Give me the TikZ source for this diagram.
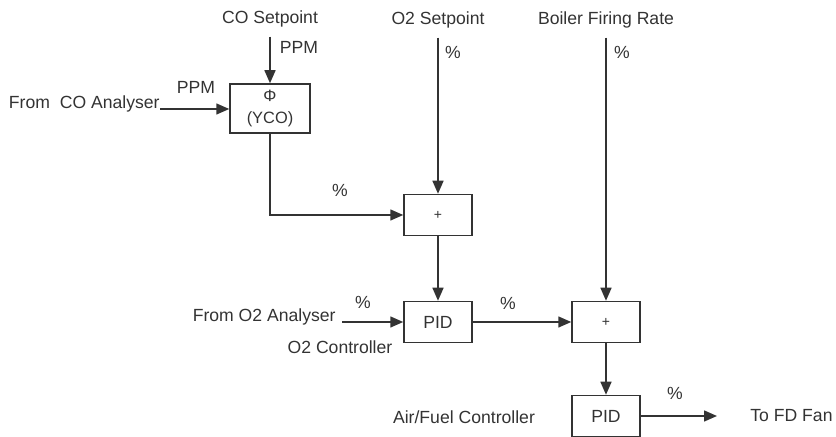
\documentclass[tikz,border=0pt]{standalone}
\usepackage{fontspec}
\setmainfont{Liberation Sans}
\usetikzlibrary{arrows.meta}
\definecolor{inkgray}{HTML}{333333}
\begin{document}
\begin{tikzpicture}[x=0.5pt,y=-0.5pt,font=\fontsize{8.8}{10.5}\selectfont,
  blk/.style={draw=inkgray,line width=0.75pt,minimum width=34pt,minimum height=20.5pt,inner sep=0pt,text=inkgray},
  sig/.style={draw=inkgray,line width=0.75pt,-{Triangle[length=6.5pt,width=5.5pt]}},
  feed/.style={sig,shorten <=4.5pt},
  lbl/.style={text=inkgray,inner sep=0pt}]
\useasboundingbox (0,0) rectangle (836,437);
% blocks
\node[blk,minimum width=40pt,minimum height=24.5pt,align=center,font=\fontsize{8.2}{11}\selectfont] (cobox) at (270,108.5) {Φ\\(YCO)};
\node[blk] (plus1) at (438,215) {\scriptsize +};
\node[blk] (pid1) at (438,322) {PID};
\node[blk] (plus2) at (606,322) {\scriptsize +};
\node[blk] (pid2) at (606,416) {PID};
% signal names
\node[lbl] (cosp) at (270,19) {CO Setpoint};
\node[lbl] (o2sp) at (438,20) {O2 Setpoint};
\node[lbl] (bfr) at (606,20) {Boiler Firing Rate};
\node[lbl,anchor=base east] (coan) at (160,109) {From\ \ CO Analyser};
\node[lbl,anchor=base east] (o2an) at (336,322) {From O2 Analyser};
\node[lbl] (o2ctl) at (340,347) {O2 Controller};
\node[lbl] (afctl) at (464,417) {Air/Fuel Controller};
\node[lbl,anchor=west] (fdfan) at (750,416) {To FD Fan};
\coordinate (fdend) at (717,416);
% units
\node[lbl] (ppma) at (299,47) {PPM};
\node[lbl] (ppmb) at (196,87) {PPM};
\node[lbl] (pcta) at (340,190) {\%};
\node[lbl] (pctb) at (453,52) {\%};
\node[lbl] (pctc) at (622,52) {\%};
\node[lbl] (pctd) at (363,302) {\%};
\node[lbl] (pcte) at (508,303) {\%};
\node[lbl] (pctf) at (675,393) {\%};
% signals
\draw[feed] (cosp.south) -- (cobox.north);
\draw[sig] (coan.base east) -- (coan.base east -| cobox.west);
\draw[sig] (cobox.south) |- (plus1.west);
\draw[feed] (o2sp.south) -- (plus1.north);
\draw[sig] (plus1) -- (pid1);
\draw[sig,shorten <=3pt] (o2an.base east) -- (o2an.base east -| pid1.west);
\draw[sig] (pid1) -- (plus2);
\draw[feed] (bfr.south) -- (plus2.north);
\draw[sig] (plus2) -- (pid2);
\draw[sig] (pid2) -- (fdend);
\end{tikzpicture}
\end{document}
